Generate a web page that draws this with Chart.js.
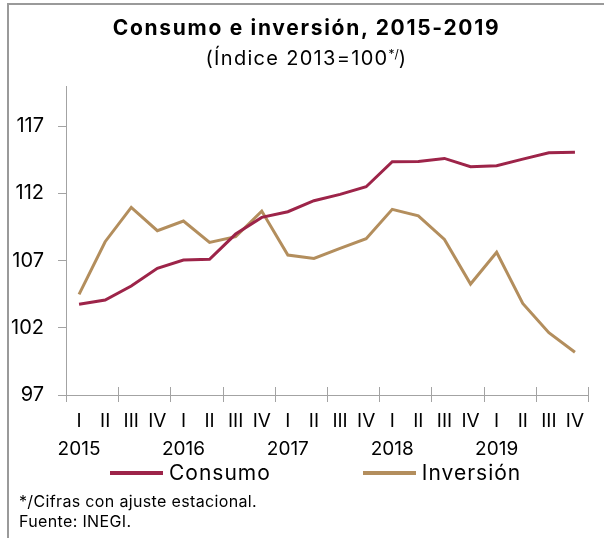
<!DOCTYPE html>
<html><head><meta charset="utf-8">
<script src="https://cdn.jsdelivr.net/npm/chart.js@4/dist/chart.umd.min.js"></script>
<style>
html,body{margin:0;padding:0;background:#fff;}
#wrap{position:relative;width:604px;height:538px;overflow:hidden;font-family:Inter,"Noto Sans",sans-serif;color:#000;}
#frame{position:absolute;left:7px;top:3px;width:640px;height:600px;border-top:2px solid #9a9a9a;border-left:2px solid #9a9a9a;box-sizing:border-box;}
#chartBox{position:absolute;left:0;top:0;width:604px;height:538px;}
#title{position:absolute;left:0;width:613px;top:16px;text-align:center;font-weight:700;font-size:21px;line-height:24px;letter-spacing:1.7px;white-space:nowrap;}
#subtitle{position:absolute;left:0;width:613px;top:46px;text-align:center;font-weight:400;font-size:20px;line-height:24px;letter-spacing:1.3px;white-space:nowrap;}
#subtitle sup{font-size:12px;vertical-align:7px;line-height:0;letter-spacing:0;}
#legend{position:absolute;left:110px;top:461px;height:24px;display:flex;align-items:center;gap:92px;font-size:21px;line-height:24px;letter-spacing:1px;white-space:nowrap;}
.item{display:flex;align-items:center;}
.swatch{display:inline-block;width:53px;height:4px;margin-right:6px;}
#notes{position:absolute;left:19px;top:491px;font-size:16px;line-height:20px;letter-spacing:0.35px;white-space:nowrap;}
</style></head>
<body>
<div id="wrap">
  <div id="frame"></div>
  <div id="chartBox"><canvas id="c"></canvas></div>
  <div id="title">Consumo e inversión, 2015-2019</div>
  <div id="subtitle">(Índice 2013=100<sup>*/</sup>)</div>
  <div id="legend"></div>
  <div id="notes">*/Cifras con ajuste estacional.<br>Fuente: INEGI.</div>
</div>
<script>
// ---- data ----
const years = ["2015","2016","2017","2018","2019"];
const quarters = ["I","II","III","IV"];
const seriesNames = ["Consumo","Inversión"];
const consumo = [103.75,104.07,105.11,106.43,107.04,107.10,108.98,110.22,110.64,111.46,111.93,112.50,114.36,114.38,114.61,113.99,114.06,114.56,115.03,115.06];
const inversion = [104.49,108.41,110.96,109.23,109.95,108.36,108.78,110.69,107.42,107.17,107.91,108.63,110.82,110.34,108.58,105.26,107.62,103.82,101.64,100.18];
const yTicks = [97,102,107,112,117];
const yMin = 97, yMax = 120;

// ---- build ----
const categories = [];
years.forEach(y => quarters.forEach(q => categories.push(q === "I" ? [q, y] : q)));
const colors = ["#9D2449", "#B38E5D"];
const axisColor = "#a3a3a3";
const fontFamily = 'Inter, "Noto Sans", sans-serif';

const xTickMarks = {
  id: 'xTickMarks',
  afterDraw(chart) {
    const xs = chart.scales.x, ctx = chart.ctx;
    const n = chart.data.labels.length, w = xs.width / n;
    ctx.save();
    ctx.strokeStyle = axisColor; ctx.lineWidth = 1;
    for (let k = 0; k <= n; k += 2) {
      const x = Math.round(xs.left + k * w) + 0.5;
      ctx.beginPath(); ctx.moveTo(x, xs.top - 8); ctx.lineTo(x, xs.top + 7); ctx.stroke();
    }
    ctx.restore();
  }
};

const chart = new Chart(document.getElementById('c'), {
  type: 'line',
  data: {
    labels: categories,
    datasets: [
      { label: seriesNames[0], data: consumo, borderColor: colors[0], backgroundColor: colors[0], borderWidth: 3, pointRadius: 0, tension: 0, fill: false },
      { label: seriesNames[1], data: inversion, borderColor: colors[1], backgroundColor: colors[1], borderWidth: 3, pointRadius: 0, tension: 0, fill: false }
    ]
  },
  options: {
    responsive: true, maintainAspectRatio: false, animation: false,
    layout: { padding: { top: 86, right: 16, bottom: 83, left: 0 } },
    plugins: { legend: { display: false }, title: { display: false }, tooltip: { enabled: false } },
    scales: {
      x: {
        type: 'category', offset: true,
        grid: { display: false, drawTicks: false },
        border: { display: true, color: axisColor, width: 1 },
        ticks: { autoSkip: false, maxRotation: 0, minRotation: 0, padding: 12, color: '#000',
                 font: { family: fontFamily, size: 19, lineHeight: '28px' } },
        afterFit(s) { s.height = 60; }
      },
      y: {
        min: yMin, max: yMax,
        grid: { drawOnChartArea: false, drawTicks: true, tickLength: 8, color: axisColor },
        border: { display: true, color: axisColor, width: 1 },
        ticks: { padding: 14, color: '#000', font: { family: fontFamily, size: 20 } },
        afterBuildTicks(s) { s.ticks = yTicks.map(v => ({ value: v })); },
        afterFit(s) { s.width = 66; }
      }
    }
  },
  plugins: [xTickMarks]
});

// legend from datasets
const lg = document.getElementById('legend');
chart.data.datasets.forEach(ds => {
  const it = document.createElement('div'); it.className = 'item';
  const sw = document.createElement('span'); sw.className = 'swatch'; sw.style.background = ds.borderColor;
  const tx = document.createElement('span'); tx.textContent = ds.label;
  it.appendChild(sw); it.appendChild(tx); lg.appendChild(it);
});
</script>
</body></html>
